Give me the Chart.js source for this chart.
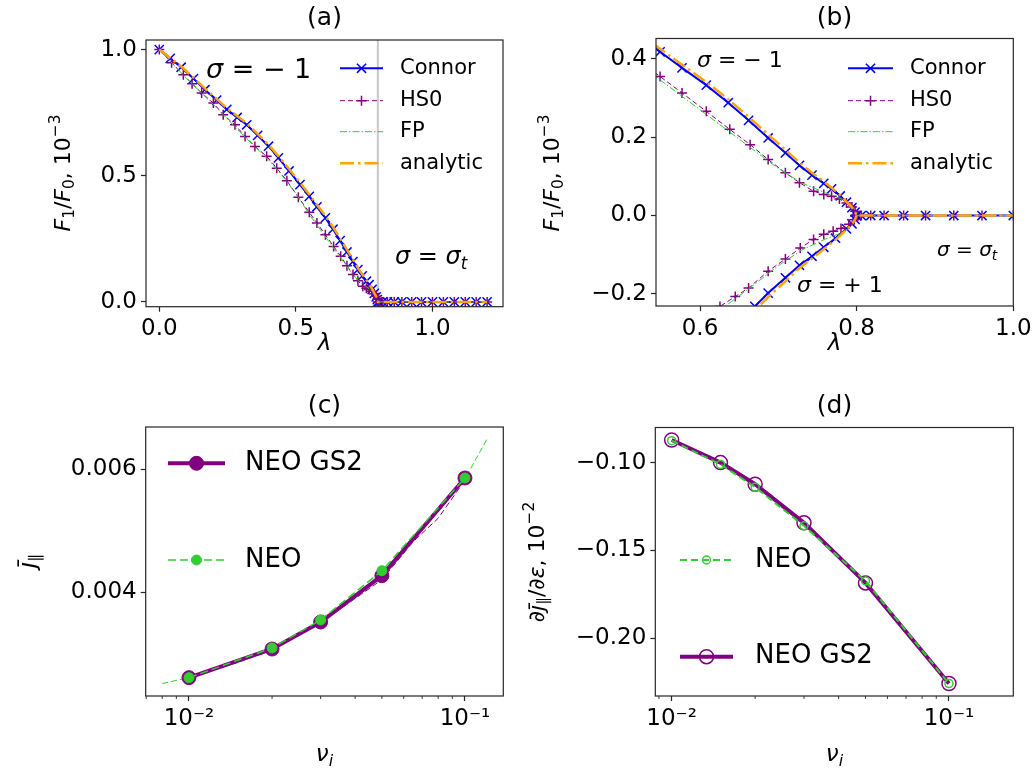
<!DOCTYPE html>
<html lang="en">
<head>
<meta charset="UTF-8">
<title>F1/F0 and parallel current</title>
<script src="https://cdn.jsdelivr.net/npm/chart.js"></script>
<style>
    body { margin: 0; background: #fff; }
    #wrap { position: relative; width: 1036px; height: 771px; }
    canvas { position: absolute; }
</style>
</head>
<body>
<div id="wrap">
    <canvas id="ca" width="518" height="385" style="left:0;top:0"></canvas>
    <canvas id="cb" width="518" height="385" style="left:518px;top:0"></canvas>
    <canvas id="cc" width="518" height="386" style="left:0;top:385px"></canvas>
    <canvas id="cd" width="518" height="386" style="left:518px;top:385px"></canvas>
</div>
<script>
// ---- panels (a), (b): F1/F0 vs lambda ----
const lam_connor = [0, 0.04, 0.08, 0.125, 0.167, 0.21, 0.247, 0.285, 0.32, 0.36, 0.40, 0.436, 0.475, 0.515, 0.549, 0.577, 0.608, 0.636, 0.662, 0.687, 0.709, 0.727, 0.743, 0.758, 0.768, 0.779, 0.787, 0.794, 0.798, 0.8];
const f_connor   = [1.0, 0.965, 0.930, 0.885, 0.841, 0.80, 0.763, 0.731, 0.702, 0.660, 0.617, 0.571, 0.519, 0.465, 0.418, 0.377, 0.333, 0.288, 0.243, 0.198, 0.160, 0.128, 0.103, 0.082, 0.068, 0.050, 0.034, 0.020, 0.009, 0.0];
const f_analytic = [1.0, 0.967, 0.933, 0.889, 0.846, 0.805, 0.768, 0.737, 0.708, 0.666, 0.623, 0.578, 0.527, 0.473, 0.426, 0.385, 0.341, 0.297, 0.252, 0.207, 0.168, 0.135, 0.109, 0.087, 0.071, 0.052, 0.035, 0.021, 0.009, 0.0];
const lam_hs0 = [0, 0.045, 0.088, 0.12, 0.155, 0.198, 0.234, 0.277, 0.314, 0.35, 0.393, 0.43, 0.467, 0.509, 0.549, 0.577, 0.608, 0.638, 0.664, 0.687, 0.709, 0.727, 0.745, 0.758, 0.768, 0.778, 0.787, 0.794, 0.798, 0.8];
const f_hs0   = [1.0, 0.948, 0.90, 0.865, 0.828, 0.788, 0.742, 0.702, 0.656, 0.616, 0.577, 0.53, 0.48, 0.415, 0.355, 0.313, 0.266, 0.22, 0.181, 0.143, 0.109, 0.084, 0.062, 0.054, 0.049, 0.042, 0.032, 0.022, 0.011, 0.0];
const lam_fp = [0, 0.1, 0.2, 0.3, 0.4, 0.45, 0.5, 0.55, 0.6, 0.65, 0.7, 0.73, 0.76, 0.78, 0.79, 0.797, 0.8];
const f_fp   = [1.0, 0.885, 0.78, 0.668, 0.563, 0.50, 0.43, 0.345, 0.27, 0.195, 0.12, 0.083, 0.058, 0.043, 0.03, 0.015, 0.0];
// sigma = sigma_t (trapped) part
const lam_flat = [0.806, 0.818, 0.835, 0.86, 0.888, 0.924, 0.96, 1.0, 1.04, 1.08, 1.12, 1.16, 1.2];
const f_flat   = [0, 0, 0, 0, 0, 0, 0, 0, 0, 0, 0, 0, 0];
// sigma = +1 branch (panel b)
const lam_connor_p = [0.655, 0.67, 0.687, 0.709, 0.727, 0.743, 0.758, 0.773, 0.787, 0.794, 0.798, 0.8];
const f_connor_p   = [-0.262, -0.232, -0.198, -0.159, -0.127, -0.104, -0.081, -0.058, -0.034, -0.021, -0.010, 0];
const f_analytic_p = [-0.27, -0.242, -0.208, -0.168, -0.134, -0.11, -0.086, -0.062, -0.036, -0.022, -0.010, 0];
const lam_hs0_p = [0.61, 0.6255, 0.645, 0.662, 0.687, 0.709, 0.728, 0.745, 0.758, 0.77, 0.78, 0.79, 0.797, 0.8];
const f_hs0_p   = [-0.255, -0.232, -0.207, -0.185, -0.142, -0.111, -0.083, -0.061, -0.048, -0.040, -0.033, -0.022, -0.011, 0];
const lam_fp_p = [0.61, 0.64, 0.67, 0.7, 0.73, 0.76, 0.78, 0.79, 0.797, 0.8];
const f_fp_p   = [-0.262, -0.22, -0.175, -0.128, -0.088, -0.06, -0.045, -0.032, -0.016, 0];

// ---- panel (c): j_par vs nu_i ----
const nu_c = [0.01, 0.02, 0.03, 0.05, 0.1];
const jpar_gs2 = [0.002607, 0.003073, 0.003512, 0.004265, 0.005854];
const jpar_neo = [0.002607, 0.00309, 0.003545, 0.004346, 0.005854];
const nu_fit_neo = [0.008, 0.01, 0.015, 0.02, 0.03, 0.04, 0.05, 0.065, 0.08, 0.1, 0.12];
const jpar_fit_neo = [0.00251, 0.00261, 0.00285, 0.00307, 0.00352, 0.0039, 0.00432, 0.0049, 0.0053, 0.00584, 0.00648];
const nu_fit_gs2 = [0.01, 0.02, 0.03, 0.05, 0.065, 0.08, 0.1];
const jpar_fit_gs2 = [0.0026, 0.00305, 0.0035, 0.0042, 0.00482, 0.0052, 0.00582];

// ---- panel (d): dj_par/deps vs nu_i ----
const nu_d = [0.01, 0.015, 0.02, 0.03, 0.05, 0.1];
const djde_gs2 = [-0.0871, -0.1000, -0.1123, -0.1343, -0.1685, -0.2258];
const djde_neo = [-0.0875, -0.1010, -0.1140, -0.1360, -0.1674, -0.2258];

// ticks
const ticks_a_x = [0, 0.5, 1.0], ticks_a_y = [0, 0.5, 1.0];
const ticks_b_x = [0.6, 0.8, 1.0], ticks_b_y = [-0.2, 0, 0.2, 0.4];
const ticks_c_y = [0.004, 0.006], ticks_d_y = [-0.10, -0.15, -0.20];
const ticks_log = [0.01, 0.1];
const minor_log = [0.007, 0.008, 0.009, 0.02, 0.03, 0.04, 0.05, 0.06, 0.07, 0.08, 0.09];

const BLUE = '#0000ff', PURPLE = '#800080', GREEN = '#32cd32', ORANGE = '#ffa500';
const FONT = '"DejaVu Sans"';
const TICK_SIZE = 23;

const connorSt = {borderColor: BLUE, borderWidth: 2, pointStyle: 'crossRot', pointRadius: 6.5, pointBorderWidth: 1.5, pointBorderColor: BLUE, order: 3};
const hs0St = {borderColor: PURPLE, borderWidth: 1, borderDash: [5, 3], pointStyle: 'cross', pointRadius: 5, pointBorderWidth: 1.5, pointBorderColor: PURPLE, order: 2};
const fpSt = {borderColor: GREEN, borderWidth: 1, borderDash: [7, 2, 1.5, 2], pointRadius: 0, order: 1};
const anSt = {borderColor: ORANGE, borderWidth: 2.5, borderDash: [14, 4, 2.5, 4], pointRadius: 0, order: 0};

const gs2cSt = {borderColor: PURPLE, borderWidth: 4, pointStyle: 'circle', pointRadius: 7, pointBackgroundColor: PURPLE, pointBorderColor: PURPLE, pointBorderWidth: 1, order: 2};
const neocSt = {borderColor: GREEN, borderWidth: 1.5, borderDash: [8, 4], pointStyle: 'circle', pointRadius: 5, pointBackgroundColor: GREEN, pointBorderColor: GREEN, pointBorderWidth: 1, order: 1};
const fitNeoSt = {borderColor: GREEN, borderWidth: 1, borderDash: [6, 3], pointRadius: 0, order: 3};
const fitGs2St = {borderColor: PURPLE, borderWidth: 1, borderDash: [6, 3], pointRadius: 0, order: 4};

const gs2dSt = {borderColor: PURPLE, borderWidth: 4, pointStyle: 'circle', pointRadius: 7, pointBackgroundColor: 'rgba(0,0,0,0)', pointBorderColor: PURPLE, pointBorderWidth: 1.5, order: 2};
const neodSt = {borderColor: GREEN, borderWidth: 2, borderDash: [7, 4], pointStyle: 'circle', pointRadius: 4, pointBackgroundColor: 'rgba(0,0,0,0)', pointBorderColor: GREEN, pointBorderWidth: 1.5, order: 1};

function pts(xs, ys) { return xs.map((x, i) => ({x: x, y: ys[i]})); }
function line(xs, ys, st) {
    return Object.assign({data: pts(xs, ys), tension: 0, fill: false, pointHoverRadius: 0}, st);
}
function num(d) { return v => (v < 0 ? '\u2212' : '') + Math.abs(v).toFixed(d); }
function logLab(v) { return '10' + (Math.round(Math.log10(v)) === -2 ? '\u207b\u00b2' : '\u207b\u00b9'); }

// ---- text helpers ----
function fontFor(k, size) {
    k = k || '';
    const small = k.includes('sub') || k.includes('sup');
    const it = k.includes('i') ? 'italic ' : '';
    return it + (small ? size * 0.7 : size) + 'px ' + FONT;
}
function drawRich(ctx, segs, x, y, size, opts) {
    opts = opts || {};
    ctx.save();
    ctx.translate(x, y);
    if (opts.rot) ctx.rotate(-Math.PI / 2);
    let w = 0;
    for (const s of segs) { ctx.font = fontFor(s[1], size); w += ctx.measureText(s[0]).width; }
    let cx = opts.align === 'left' ? 0 : -w / 2;
    ctx.fillStyle = '#000';
    ctx.textBaseline = 'middle';
    ctx.textAlign = 'left';
    for (const s of segs) {
        const k = s[1] || '';
        ctx.font = fontFor(k, size);
        const dy = k.includes('sub') ? size * 0.28 : k.includes('sup') ? -size * 0.38 : 0;
        ctx.fillText(s[0], cx, dy);
        cx += ctx.measureText(s[0]).width;
    }
    ctx.restore();
}
function drawMarker(ctx, st, x, y) {
    const r = st.pointRadius;
    ctx.save();
    ctx.setLineDash([]);
    ctx.strokeStyle = st.pointBorderColor;
    ctx.lineWidth = st.pointBorderWidth;
    ctx.beginPath();
    if (st.pointStyle === 'crossRot') {
        const d = r * Math.SQRT1_2;
        ctx.moveTo(x - d, y - d); ctx.lineTo(x + d, y + d);
        ctx.moveTo(x - d, y + d); ctx.lineTo(x + d, y - d);
        ctx.stroke();
    } else if (st.pointStyle === 'cross') {
        ctx.moveTo(x - r, y); ctx.lineTo(x + r, y);
        ctx.moveTo(x, y - r); ctx.lineTo(x, y + r);
        ctx.stroke();
    } else {
        ctx.arc(x, y, r, 0, Math.PI * 2);
        ctx.fillStyle = st.pointBackgroundColor;
        ctx.fill();
        ctx.stroke();
    }
    ctx.restore();
}

// per-canvas decorations (page coordinates)
const decoConf = {};
Chart.register({
    id: 'deco',
    beforeDatasetsDraw(chart) {
        const c = decoConf[chart.canvas.id];
        if (!c || c.vline === undefined) return;
        const ctx = chart.ctx, a = chart.chartArea;
        const x = chart.scales.x.getPixelForValue(c.vline);
        ctx.save();
        ctx.strokeStyle = '#c8c8c8';
        ctx.lineWidth = 2;
        ctx.beginPath(); ctx.moveTo(x, a.top); ctx.lineTo(x, a.bottom); ctx.stroke();
        ctx.restore();
    },
    afterDraw(chart) {
        const c = decoConf[chart.canvas.id];
        if (!c) return;
        const ctx = chart.ctx, a = chart.chartArea;
        ctx.save();
        // minor ticks on log axes
        if (c.minor) {
            ctx.strokeStyle = '#262626';
            ctx.lineWidth = 0.9;
            for (const v of c.minor) {
                const x = chart.scales.x.getPixelForValue(v);
                if (x < a.left - 0.5 || x > a.right + 0.5) continue;
                ctx.beginPath(); ctx.moveTo(x, a.bottom); ctx.lineTo(x, a.bottom + 3); ctx.stroke();
            }
        }
        // frame
        ctx.strokeStyle = '#262626';
        ctx.lineWidth = 1.2;
        ctx.strokeRect(a.left, a.top, a.right - a.left, a.bottom - a.top);
        ctx.translate(-c.ox, -c.oy);
        drawRich(ctx, [[c.title, '']], c.tx, c.ty, 25);
        drawRich(ctx, c.xlabel, c.xlx, c.xly, 23);
        drawRich(ctx, c.ylabel, c.ylx, c.yly, c.ysize || 22, {rot: true});
        for (const L of c.legend) {
            ctx.save();
            ctx.strokeStyle = L.st.borderColor;
            ctx.lineWidth = L.st.borderWidth;
            ctx.setLineDash(L.st.borderDash || []);
            ctx.beginPath(); ctx.moveTo(L.x1, L.y); ctx.lineTo(L.x2, L.y); ctx.stroke();
            ctx.restore();
            if (L.st.pointRadius) drawMarker(ctx, L.st, (L.x1 + L.x2) / 2, L.y);
            drawRich(ctx, [[L.text, '']], L.tx, L.y, L.size, {align: 'left'});
        }
        for (const t of c.texts) drawRich(ctx, t.segs, t.x, t.y, t.size, {align: 'left'});
        ctx.restore();
    }
});

function axis(o, dir, size) {
    return {
        type: o.type || 'linear', min: o.min, max: o.max,
        grid: {display: true, drawOnChartArea: false, drawTicks: true, tickLength: 5, tickWidth: 1.2, tickColor: '#262626'},
        border: {display: false},
        ticks: {font: {family: 'DejaVu Sans', size: TICK_SIZE}, color: '#000', padding: 4, maxRotation: 0, minRotation: 0, autoSkip: false, callback: o.fmt},
        afterBuildTicks: ax => { ax.ticks = o.ticks.map(v => ({value: v})); },
        afterFit: ax => {
            if (dir === 'x') { ax.height = size; ax.paddingLeft = 0; ax.paddingRight = 0; }
            else { ax.width = size; ax.paddingTop = 0; ax.paddingBottom = 0; }
        }
    };
}
function makeChart(id, datasets, sx, sy, box) {
    new Chart(document.getElementById(id), {
        type: 'line',
        data: {datasets: datasets},
        options: {
            responsive: false, animation: false, devicePixelRatio: 1,
            layout: {padding: {left: 0, top: box.top, right: box.right, bottom: 0}},
            plugins: {legend: {display: false}, tooltip: {enabled: false}, title: {display: false}},
            scales: {x: axis(sx, 'x', box.xh), y: axis(sy, 'y', box.yw)}
        }
    });
}

const F_LABEL = [['F', 'i'], ['1', 'sub'], ['/', ''], ['F', 'i'], ['0', 'sub'], [', 10', ''], ['\u22123', 'sup']];
const upper = [
    line(lam_connor.concat(lam_flat), f_connor.concat(f_flat), connorSt),
    line(lam_hs0.concat(lam_flat), f_hs0.concat(f_flat), hs0St),
    line(lam_fp.concat(lam_flat), f_fp.concat(f_flat), fpSt),
    line(lam_connor.concat(lam_flat), f_analytic.concat(f_flat), anSt)
];
function legendAB(x1, x2, tx) {
    const rows = [[connorSt, 'Connor'], [hs0St, 'HS0'], [fpSt, 'FP'], [anSt, 'analytic']];
    const ys = [68.3, 100.7, 131.7, 163.3];
    return rows.map((r, i) => ({x1: x1, x2: x2, y: ys[i], st: r[0], text: r[1], tx: tx, size: 21}));
}

// (a)
decoConf.ca = {
    ox: 0, oy: 0, vline: 0.8,
    title: '(a)', tx: 324.5, ty: 18,
    xlabel: [['\u03bb', 'i']], xlx: 324.5, xly: 344,
    ylabel: F_LABEL, ylx: 64, yly: 173,
    legend: legendAB(340, 383, 400),
    texts: [
        {segs: [['\u03c3', 'i'], [' = \u2212 1', '']], x: 206, y: 71, size: 27},
        {segs: [['\u03c3', 'i'], [' = ', ''], ['\u03c3', 'i'], ['t', 'isub']], x: 395, y: 258, size: 24}
    ]
};
makeChart('ca', upper,
    {min: -0.0487, max: 1.2582, ticks: ticks_a_x, fmt: num(1)},
    {min: -0.019, max: 1.038, ticks: ticks_a_y, fmt: num(1)},
    {top: 40, right: 15, xh: 78.3, yw: 146});

// (b)
decoConf.cb = {
    ox: 518, oy: 0,
    title: '(b)', tx: 834.5, ty: 18,
    xlabel: [['\u03bb', 'i']], xlx: 834.5, xly: 344,
    ylabel: F_LABEL, ylx: 553, yly: 173,
    legend: legendAB(848, 893, 910),
    texts: [
        {segs: [['\u03c3', 'i'], [' = \u2212 1', '']], x: 697, y: 61, size: 22},
        {segs: [['\u03c3', 'i'], [' = ', ''], ['\u03c3', 'i'], ['t', 'isub']], x: 937, y: 251, size: 20},
        {segs: [['\u03c3', 'i'], [' = + 1', '']], x: 797, y: 286, size: 22}
    ]
};
makeChart('cb', upper.concat([
    line(lam_connor_p, f_connor_p, connorSt),
    line(lam_hs0_p, f_hs0_p, hs0St),
    line(lam_fp_p, f_fp_p, fpSt),
    line(lam_connor_p, f_analytic_p, anSt)
]),
    {min: 0.5438, max: 1.0, ticks: ticks_b_x, fmt: num(1)},
    {min: -0.231, max: 0.452, ticks: ticks_b_y, fmt: num(1)},
    {top: 38.5, right: 22.7, xh: 79, yw: 138});

// (c)
decoConf.cc = {
    ox: 0, oy: 385, minor: minor_log,
    title: '(c)', tx: 324.5, ty: 406,
    xlabel: [['\u03bd', 'i'], ['i', 'isub']], xlx: 324.5, xly: 755,
    ylabel: [['j\u0304', 'i'], ['\u2225', 'sub']], ylx: 29, yly: 561, ysize: 23,
    legend: [
        {x1: 168, x2: 225, y: 463.3, st: gs2cSt, text: 'NEO GS2', tx: 245, size: 26},
        {x1: 168, x2: 225, y: 560, st: neocSt, text: 'NEO', tx: 245, size: 26}
    ],
    texts: []
};
makeChart('cc', [
    line(nu_fit_neo, jpar_fit_neo, fitNeoSt),
    line(nu_fit_gs2, jpar_fit_gs2, fitGs2St),
    line(nu_c, jpar_gs2, gs2cSt),
    line(nu_c, jpar_neo, neocSt)
],
    {type: 'logarithmic', min: 0.00697, max: 0.1377, ticks: ticks_log, fmt: logLab},
    {min: 0.002309, max: 0.006683, ticks: ticks_c_y, fmt: num(3)},
    {top: 42, right: 14.7, xh: 75, yw: 145.7});

// (d)
decoConf.cd = {
    ox: 518, oy: 385, minor: minor_log,
    title: '(d)', tx: 834.5, ty: 406,
    xlabel: [['\u03bd', 'i'], ['i', 'isub']], xlx: 834.5, xly: 755,
    ylabel: [['\u2202', ''], ['j\u0304', 'i'], ['\u2225', 'sub'], ['/\u2202', ''], ['\u03b5', 'i'], [', 10', ''], ['\u22122', 'sup']], ylx: 538, yly: 562,
    legend: [
        {x1: 680, x2: 733, y: 560, st: neodSt, text: 'NEO', tx: 755, size: 26},
        {x1: 680, x2: 733, y: 656.7, st: gs2dSt, text: 'NEO GS2', tx: 755, size: 26}
    ],
    texts: []
};
makeChart('cd', [
    line(nu_d, djde_gs2, gs2dSt),
    line(nu_d, djde_neo, neodSt)
],
    {type: 'logarithmic', min: 0.00873, max: 0.1706, ticks: ticks_log, fmt: logLab},
    {min: -0.2329, max: -0.080, ticks: ticks_d_y, fmt: num(2)},
    {top: 42.5, right: 22.7, xh: 75, yw: 137.3});
</script>
</body>
</html>
